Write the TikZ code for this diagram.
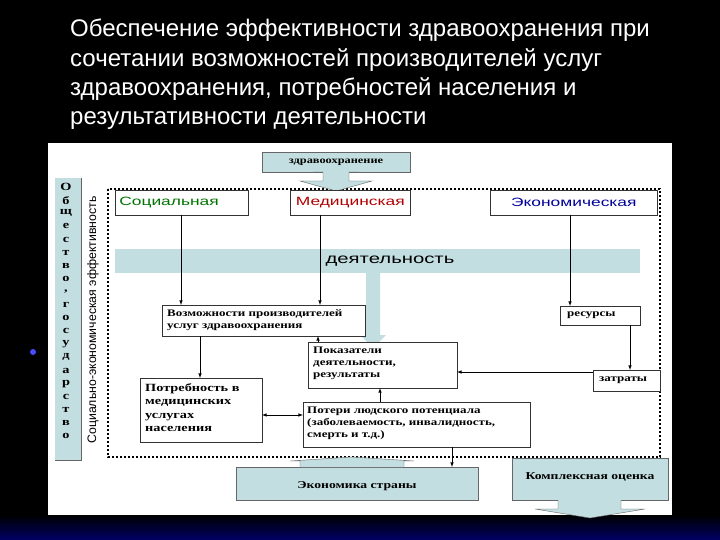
\documentclass[tikz,border=0pt]{standalone}
\usepackage{fontspec}
\setmainfont{Liberation Serif}[FakeStretch=1.3]
\newfontfamily\sans{Liberation Sans}
\newfontfamily\sansw{Liberation Sans}[FakeStretch=1.45]
\begin{document}
\begin{tikzpicture}[x=1pt,y=-1pt,
 box/.style={draw=black!80,fill=white,line width=0.6pt},
 ar/.style={->,>=latex,line width=0.6pt},
 txt/.style={font=\bfseries\fontsize{10}{12}\selectfont,align=left,anchor=north west,inner sep=1pt}]
\definecolor{lbl}{HTML}{C3DEE0}
\useasboundingbox (0,0) rectangle (720,540);
\fill[black] (0,0) rectangle (720,540);
\shade[top color=black,bottom color=blue!40!black] (0,515) rectangle (720,540);
\fill[blue!70!white] (33,352) circle (3);
% title
\node[anchor=north west,text=white,font=\sans\fontsize{24}{29.3}\selectfont,align=left,inner sep=0] (title) at (70,19)
 {Обеспечение эффективности здравоохранения при\\сочетании возможностей производителей услуг\\здравоохранения, потребностей населения и\\результативности деятельности};
\fill[white] (48,143) rectangle (672,515);
% left bar
\fill[lbl] (55,178) rectangle (81,460);
\draw[black!60] (81,178)--(81,460)--(55,460);
\foreach \c [count=\i] in {О,б,щ,е,с,т,в,о,{,},г,о,с,у,д,а,р,с,т,в,о}
  \node[font=\bfseries\fontsize{11}{11}\selectfont,inner sep=0] (l\i) at (66,{174+\i*13.1}) {\c};
\node[rotate=90,font=\sans\fontsize{12.3}{12}\selectfont] (se) at (93,320) {Социально-экономическая эффективность};
\draw[dotted,line width=2pt] (108,189) rectangle (660,457);
% zdravoohranenie
\fill[lbl,draw=black!60] (262,152) rectangle (410,172);
\fill[lbl,draw=black!60] (313,172)--(323,172)--(323,181)--(300,181)--(336,191)--(372,181)--(349,181)--(349,172)--(359,172);
\node[font=\bfseries\fontsize{9.5}{9}\selectfont] (zd) at (336,162) {здравоохранение};
% three boxes
\node[box,minimum width=133,minimum height=25,anchor=north west,font=\sansw\fontsize{12}{12}\selectfont,text=green!45!black,text width=125] (soc) at (115,190) {Социальная};
\node[box,minimum width=120,minimum height=25,anchor=north west,font=\sansw\fontsize{12}{12}\selectfont,text=red!70!black,align=center] (med) at (290,190) {Медицинская};
\node[box,minimum width=167,minimum height=25,anchor=north west,font=\sansw\fontsize{12}{12}\selectfont,text=blue!60!black,align=center] (eco) at (490,190) {Экономическая};
% band
\fill[lbl] (115,249) rectangle (640,273);
\node[font=\sansw\fontsize{14}{14}\selectfont] (dey) at (390,261) {деятельность};
\fill[lbl] (366,273) rectangle (380,335) (360,335)--(386,335)--(373,348)--cycle;
% boxes
\node[box,minimum width=203,minimum height=31,anchor=north west] (voz) at (162,305) {};
\node[txt] at (166,308) {Возможности производителей\\услуг здравоохранения};
\node[box,minimum width=80,minimum height=19,anchor=north west] (res) at (560,306) {};
\node[txt] at (566,311) {ресурсы};
\node[box,minimum width=149,minimum height=46,anchor=north west] (pok) at (308,342) {};
\node[txt] at (312,346) {Показатели\\деятельности,\\результаты};
\node[box,minimum width=67,minimum height=21,anchor=north west] (zat) at (593,370) {};
\node[txt] at (598,376) {затраты};
\node[box,minimum width=122,minimum height=64,anchor=north west] (pot) at (140,378) {};
\node[txt,font=\bfseries\fontsize{11}{13.5}\selectfont] at (144,382) {Потребность в\\медицинских\\услугах\\населения};
\node[box,minimum width=227,minimum height=45,anchor=north west] (los) at (303,402) {};
\node[txt] at (306,406) {Потери людского потенциала\\(заболеваемость, инвалидность,\\смерть и т.д.)};
% bottom block arrows
\fill[lbl,draw=black!60] (236,467) rectangle (478,500);
\fill[lbl,draw=black!60] (300,467)--(300,461)--(290,461)--(352,457)--(414,461)--(404,461)--(404,467);
\node[font=\bfseries\fontsize{10.5}{9}\selectfont] (ek) at (357,486) {Экономика страны};
\fill[lbl,draw=black!60] (512,458) rectangle (668,500);
\fill[lbl,draw=black!60] (558,500)--(558,509)--(535,509)--(590,518)--(645,509)--(621,509)--(621,500);
\node[font=\bfseries\fontsize{10.5}{9}\selectfont] (ko) at (590,477) {Комплексная оценка};
% connectors
\draw[ar] (181,215) -- (181,305);
\draw[ar] (320,215) -- (320,305);
\draw[ar] (570,215) -- (570,306);
\draw[ar] (630,325) -- (630,370);
\draw[ar] (593,372) -- (457,372);
\draw[ar] (380,402) -- (380,388);
\draw[ar] (200,336) -- (200,378);
\draw[ar] (318,342) -- (318,336);
\draw[<->,>=latex,line width=0.6pt] (262,415) -- (303,415);
\draw[ar] (452,447) -- (452,467);
\end{tikzpicture}
\end{document}
